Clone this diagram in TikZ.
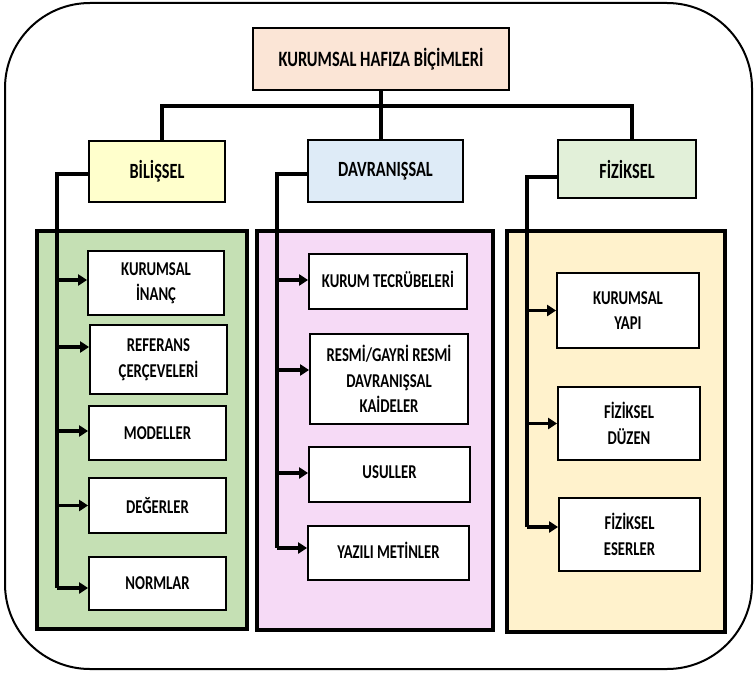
\documentclass[tikz,border=0pt]{standalone}
\usepackage{fontspec}
\newfontfamily\labfont{Carlito}[FakeStretch=0.75]
\usetikzlibrary{arrows.meta}
\definecolor{titlefill}{HTML}{FBE5D6}
\definecolor{bilfill}{HTML}{FFFFCC}
\definecolor{davfill}{HTML}{DEEBF7}
\definecolor{fizfill}{HTML}{E2F0D9}
\definecolor{greenpanel}{HTML}{C5E0B4}
\definecolor{pinkpanel}{HTML}{F6DAF6}
\definecolor{yellowpanel}{HTML}{FFF2CC}
\tikzset{
  headbox/.style={draw, line width=1.8pt, align=center, inner sep=0pt,
    font=\labfont\bfseries\fontsize{21.7}{26}\selectfont},
  itembox/.style={draw, line width=1.8pt, fill=white, align=center, inner sep=0pt,
    font=\labfont\bfseries\fontsize{19.6}{25.5}\selectfont},
  panel/.style={draw, line width=3.6pt},
  bus/.style={line width=3.6pt},
  arr/.style={line width=3.6pt, -{Triangle[length=9pt,width=11pt]}},
}
\begin{document}
\begin{tikzpicture}[x=1pt, y=-1pt]
\useasboundingbox (0,0) rectangle (755,677);
% outer frame
\draw[line width=2pt, rounded corners=85pt] (5,3) rectangle (752,669);

% column panels
\node[panel, fill=greenpanel, minimum width=210pt, minimum height=398pt] (gpanel) at (142,430) {};
\node[panel, fill=pinkpanel, minimum width=236pt, minimum height=399pt] (ppanel) at (375,430.5) {};
\node[panel, fill=yellowpanel, minimum width=218pt, minimum height=401pt] (ypanel) at (616,431.5) {};

% top level
\node[headbox, fill=titlefill, minimum width=256pt, minimum height=62pt,
  font=\labfont\bfseries\fontsize{21.9}{26}\selectfont] (title) at (381,59) {KURUMSAL HAFIZA BİÇİMLERİ};
\node[headbox, fill=bilfill, minimum width=136pt, minimum height=61pt] (bil) at (157,171.5) {BİLİŞSEL};
\node[headbox, fill=davfill, minimum width=155pt, minimum height=62pt] (dav) at (385.5,171) {DAVRANIŞSAL};
\node[headbox, fill=fizfill, minimum width=138pt, minimum height=58pt] (fiz) at (627,169) {FİZİKSEL};

% bus from the title to the three categories
\coordinate (busL) at (162,106);
\coordinate (busR) at (632,106);
\draw[bus] (busL |- bil.north) -- (busL) -- (busR) -- (busR |- fiz.north);
\draw[bus] (title.south) -- (title.south |- dav.north);

% cognitive items
\node[itembox, minimum width=136pt, minimum height=64pt] (n1) at (156,283) {KURUMSAL\\İNANÇ};
\node[itembox, minimum width=137pt, minimum height=69pt] (n2) at (158.5,359.5) {REFERANS\\ÇERÇEVELERİ};
\node[itembox, minimum width=137pt, minimum height=54pt] (n3) at (157.5,433) {MODELLER};
\node[itembox, minimum width=137pt, minimum height=55pt] (n4) at (157.5,505.5) {DEĞERLER};
\node[itembox, minimum width=137pt, minimum height=53pt] (n5) at (157.5,583.5) {NORMLAR};

% behavioural items
\node[itembox, minimum width=158pt, minimum height=55pt] (p1) at (388,281.5) {\raisebox{4.5pt}{KURUM TECRÜBELERİ}};
\node[itembox, minimum width=158pt, minimum height=90pt] (p2) at (389,379) {RESMİ/GAYRİ RESMİ\\DAVRANIŞSAL\\KAİDELER};
\node[itembox, minimum width=161pt, minimum height=55pt] (p3) at (389.5,474.5) {\raisebox{5.5pt}{USULLER}};
\node[itembox, minimum width=161pt, minimum height=54pt] (p4) at (388.5,553) {\raisebox{5pt}{YAZILI METİNLER}};

% physical items
\node[itembox, minimum width=142pt, minimum height=75pt] (y1) at (628,310.5) {KURUMSAL\\YAPI};
\node[itembox, minimum width=142pt, minimum height=73pt] (y2) at (629,423.5) {FİZİKSEL\\DÜZEN};
\node[itembox, minimum width=141pt, minimum height=73pt] (y3) at (629.5,534.5) {FİZİKSEL\\ESERLER};

% trunks
\coordinate (gt) at (57,174);
\coordinate (pt) at (277,174);
\coordinate (yt) at (527,177);
\draw[bus] ([yshift=-2.5pt]bil.west) -- (gt) -- (gt |- 0,588);
\draw[bus] ([yshift=-3pt]dav.west) -- (pt) -- (pt |- 0,548);
\draw[bus] ([yshift=-8pt]fiz.west) -- (yt) -- (yt |- 0,527);

% branch arrows
\draw[arr] ([yshift=3pt]n1.west -| gt) -- ([yshift=3pt]n1.west);
\draw[arr] ([yshift=12.5pt]n2.west -| gt) -- ([yshift=12.5pt]n2.west);
\draw[arr] ([yshift=2pt]n3.west -| gt) -- ([yshift=2pt]n3.west);
\draw[arr] (n4.west -| gt) -- (n4.west);
\draw[arr] ([yshift=-4.5pt]n5.west -| gt) -- ([yshift=-4.5pt]n5.west);

\draw[arr] ([yshift=1.5pt]p1.west -| pt) -- ([yshift=1.5pt]p1.west);
\draw[arr] ([yshift=9pt]p2.west -| pt) -- ([yshift=9pt]p2.west);
\draw[arr] ([yshift=1.5pt]p3.west -| pt) -- ([yshift=1.5pt]p3.west);
\draw[arr] ([yshift=5pt]p4.west -| pt) -- ([yshift=5pt]p4.west);

\draw[arr] (y1.west -| yt) -- (y1.west);
\draw[arr] (y2.west -| yt) -- (y2.west);
\draw[arr] ([yshift=7.5pt]y3.west -| yt) -- ([yshift=7.5pt]y3.west);
\end{tikzpicture}
\end{document}
